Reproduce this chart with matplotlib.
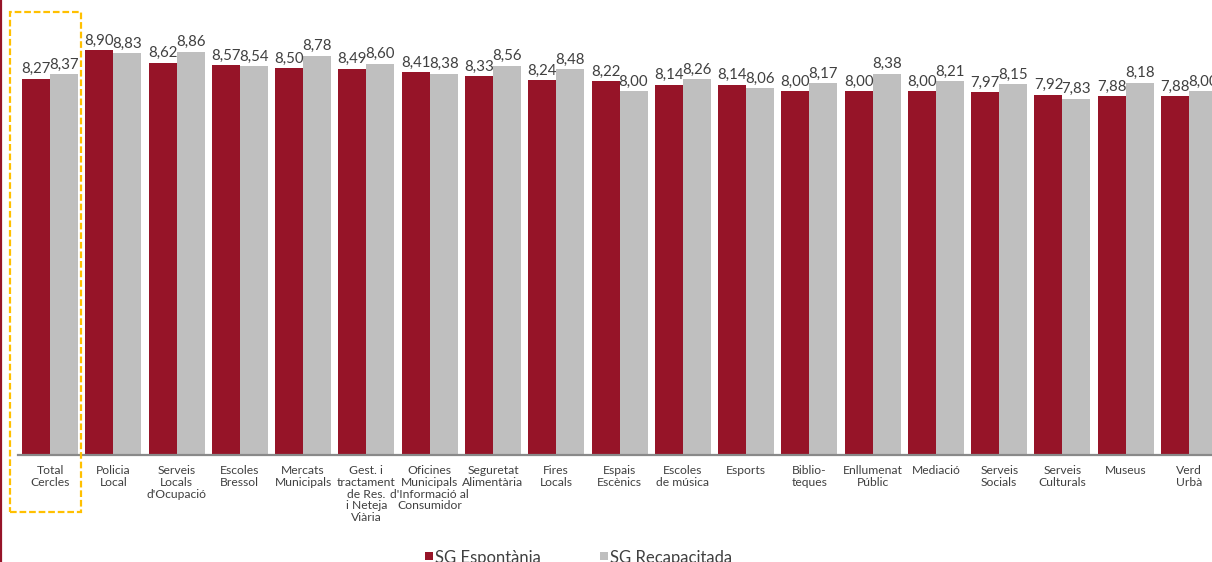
import matplotlib
matplotlib.use("Agg")
import matplotlib.pyplot as plt
from matplotlib.patches import Rectangle
from matplotlib.lines import Line2D
import numpy as np

plt.rcParams["font.family"] = ["Lato", "DejaVu Sans"]

categories = [
    "Total\nCercles", "Policia\nLocal", "Serveis\nLocals\nd'Ocupació",
    "Escoles\nBressol", "Mercats\nMunicipals",
    "Gest. i\ntractament\nde Res.\ni Neteja\nViària",
    "Oficines\nMunicipals\nd'Informació al\nConsumidor",
    "Seguretat\nAlimentària", "Fires\nLocals", "Espais\nEscènics",
    "Escoles\nde música", "Esports", "Biblio-\nteques", "Enllumenat\nPúblic",
    "Mediació", "Serveis\nSocials", "Serveis\nCulturals", "Museus", "Verd\nUrbà",
]
espontania = [8.27, 8.90, 8.62, 8.57, 8.50, 8.49, 8.41, 8.33, 8.24, 8.22,
              8.14, 8.14, 8.00, 8.00, 8.00, 7.97, 7.92, 7.88, 7.88]
recapacitada = [8.37, 8.83, 8.86, 8.54, 8.78, 8.60, 8.38, 8.56, 8.48, 8.00,
                8.26, 8.06, 8.17, 8.38, 8.21, 8.15, 7.83, 8.18, 8.00]
series_names = ["SG Espontània", "SG Recapacitada"]

RED = "#961428"
GREY = "#BFBFBF"
TXT = "#404040"

W, H = 1212, 562
fig = plt.figure(figsize=(W / 100, H / 100), dpi=100)
ax = fig.add_axes([18 / W, 107 / H, 1 - 18 / W, 455 / H])

x = np.arange(len(categories))
bw = 0.4425
b1 = ax.bar(x - bw / 2, espontania, width=bw, color=RED, linewidth=0)
b2 = ax.bar(x + bw / 2, recapacitada, width=bw, color=GREY, linewidth=0)

ax.set_ylim(0, 10)
ax.set_xlim(-0.506, 18.363)

def fmt(v):
    return f"{v:.2f}".replace(".", ",")

for bars, vals in [(b1, espontania), (b2, recapacitada)]:
    for rect, v in zip(bars, vals):
        ax.annotate(fmt(v), (rect.get_x() + rect.get_width() / 2, v),
                    xytext=(0, 4), textcoords="offset points",
                    ha="center", va="baseline", fontsize=10.8, color=TXT,
                    annotation_clip=False)

for s in ["top", "right", "left"]:
    ax.spines[s].set_visible(False)
ax.spines["bottom"].set_color("#898989")
ax.spines["bottom"].set_linewidth(1.6)
ax.set_yticks([])
ax.set_xticks(x)
ax.set_xticklabels(categories, fontsize=8.7, color=TXT, linespacing=1.1)
ax.tick_params(axis="x", length=0, pad=7)

# highlight box around the total
fig.add_artist(Rectangle((10 / W, (H - 512) / H), 71 / W, 500 / H,
                         transform=fig.transFigure, fill=False,
                         edgecolor="#FFC000", linewidth=1.6,
                         linestyle=(0, (3, 1.3))))

# thin bar on the left margin
fig.add_artist(Line2D([1 / W, 1 / W], [0, 1], transform=fig.transFigure,
                      color=RED, linewidth=1.6))

# legend
for px, col, name in [(425, RED, series_names[0]), (600, GREY, series_names[1])]:
    fig.add_artist(Rectangle((px / W, 2 / H), 8 / W, 8 / H,
                             transform=fig.transFigure, color=col, lw=0))
    fig.text((px + 10) / W, -1 / H, name, fontsize=12, color=TXT,
             ha="left", va="baseline")

fig.savefig("out.png", dpi=100)
